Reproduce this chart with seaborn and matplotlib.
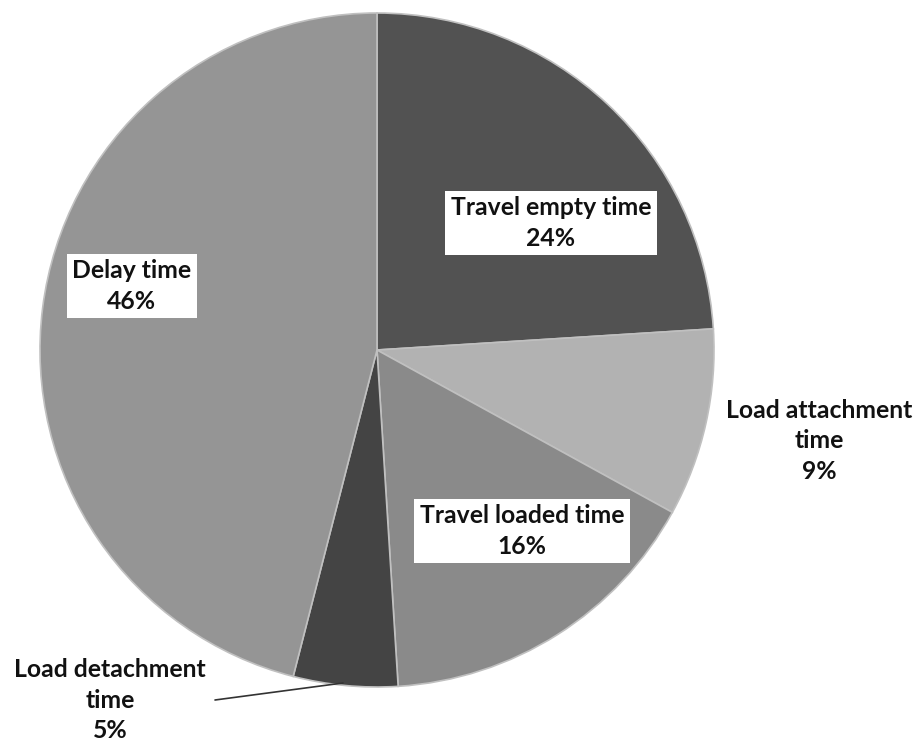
import matplotlib
matplotlib.use("Agg")
import matplotlib.pyplot as plt
import seaborn as sns

categories = ["Travel empty time", "Load attachment time", "Travel loaded time",
              "Load detachment time", "Delay time"]
values = [24, 9, 16, 5, 46]
label_texts = ["Travel empty time\n24%", "Load attachment\ntime\n9%",
               "Travel loaded time\n16%", "Load detachment\ntime\n5%",
               "Delay time\n46%"]
colors = ["#525252", "#b2b2b2", "#8a8a8a", "#444444", "#959595"]

sns.set_theme(style="white")
plt.rcParams['font.family'] = ['Lato', 'DejaVu Sans']

W, H = 919, 743
fig = plt.figure(figsize=(W / 100, H / 100), dpi=100)
cx, cy, R = 377, 350, 337
ax = fig.add_axes([(cx - R) / W, (H - cy - R) / H, 2 * R / W, 2 * R / H])

ax.pie(values, colors=colors, startangle=90, counterclock=False, radius=1,
       wedgeprops=dict(edgecolor="#c0c0c0", linewidth=1.2))
ax.set_xlim(-1, 1)
ax.set_ylim(-1, 1)
ax.set_aspect("auto")
ax.axis("off")


def d(px, py):
    return (px - cx) / R, (cy - py) / R


box = dict(boxstyle="square,pad=0.22", fc="white", ec="none")
txt = dict(ha="center", va="center", fontsize=17.8, fontweight="bold",
           color="#111111", linespacing=1.42)

ax.text(*d(551, 223), label_texts[0], bbox=box, **txt)
ax.text(*d(819, 441), label_texts[1], clip_on=False, **txt)
ax.text(*d(522, 531), label_texts[2], bbox=box, **txt)
ax.text(*d(110, 700), label_texts[3], clip_on=False, **txt)
ax.text(*d(132, 286), label_texts[4], bbox=box, **txt)

x0, y0 = d(215, 700)
x1, y1 = d(343, 683)
ax.plot([x0, x1], [y0, y1], color="#333333", lw=1.2, clip_on=False)

fig.savefig("out.png", dpi=100, facecolor="white")
